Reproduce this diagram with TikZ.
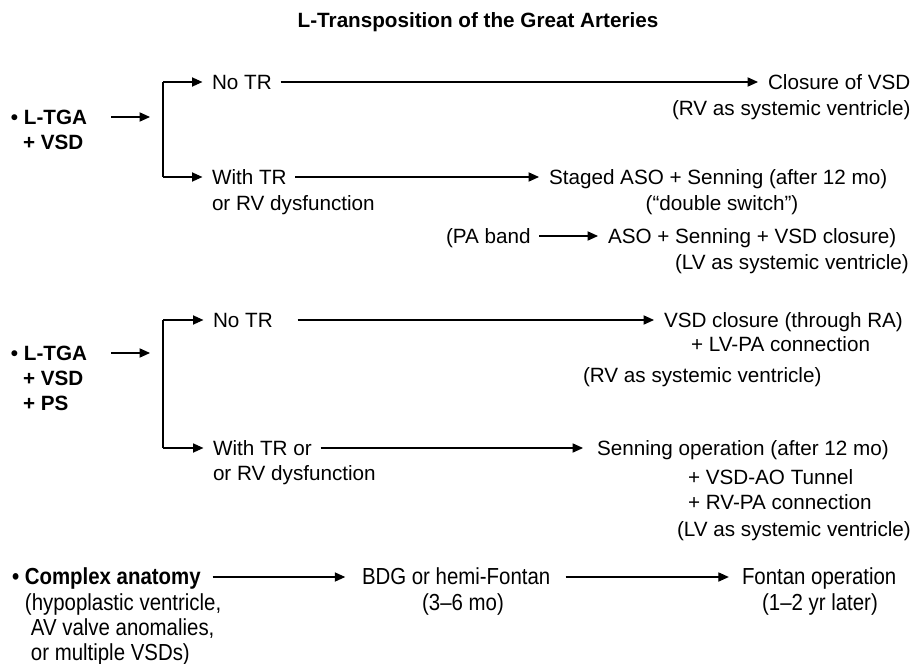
\documentclass[tikz,border=0pt]{standalone}
\usepackage{fontspec}
\setmainfont{Liberation Sans}
\newfontfamily\condfont[FakeStretch=0.88, Ligatures=TeX]{Liberation Sans}
\usetikzlibrary{arrows.meta,positioning}
\newcommand{\tf}{\fontsize{14.7}{17}\selectfont}
\newcommand{\cf}{\condfont\fontsize{16.5}{19}\selectfont}

\begin{document}
\begin{tikzpicture}[x=0.25mm, y=-0.25mm, line width=0.8pt,
  every node/.style={inner sep=0pt, outer sep=0pt, font=\tf},
  txt/.style={anchor=west, text height=10.5pt, text depth=0pt},
  ctr/.style={anchor=center, text height=10.5pt, text depth=0pt},
  link/.style={-{Triangle[length=2.6mm, width=2.3mm]}, shorten <=2.2mm, shorten >=2.5mm},
  fork/.style={-{Triangle[length=2.6mm, width=2.3mm]}}]
\useasboundingbox (0,0) rectangle (916,664);
% ---- title
\node[ctr, font=\tf\bfseries] (title) at (478,20) {L-Transposition of the Great Arteries};
% ================= L-TGA + VSD
\node[txt, font=\tf\bfseries] (tga1) at (11,117) {\textbullet\ L-TGA};
\node[txt, font=\tf\bfseries] (tga1b) at (23,142) {+ VSD};
\coordinate (in1) at (150,117);
\coordinate (top1) at (163,82);
\coordinate (bot1) at (163,177);
\draw[fork] (111,117) -- (in1);
\draw (top1) -- (bot1);
\node[txt] (notr1) at (212,82) {No TR};
\node[txt] (clos) at (768,82) {Closure of VSD};
\node[txt] (rvsys1) at (672,108) {(RV as systemic ventricle)};
\node[txt] (wtr1) at (212,177) {With TR};
\node[txt] (wtr1b) at (212,203) {or RV dysfunction};
\node[txt] (staged) at (549,177) {Staged ASO + Senning (after 12 mo)};
\node[ctr] (dswitch) at (722,203) {(``double switch'')};
\node[txt] (paband) at (446,236) {(PA band};
\node[txt] (aso) at (608,236) {ASO + Senning + VSD closure)};
\node[txt] (lvsys1) at (675,262) {(LV as systemic ventricle)};
\draw[fork, shorten >=2.4mm] (top1) -- (notr1);
\draw[fork, shorten >=2.4mm] (bot1) -- (wtr1);
\draw[link] (notr1) -- (clos);
\draw[link] (wtr1) -- (staged);
\draw[link] (paband) -- (aso);
% ================= L-TGA + VSD + PS
\node[txt, font=\tf\bfseries] (tga2) at (11,353) {\textbullet\ L-TGA};
\node[txt, font=\tf\bfseries] (tga2b) at (23,378) {+ VSD};
\node[txt, font=\tf\bfseries] (tga2c) at (23,403) {+ PS};
\coordinate (in2) at (150,353);
\coordinate (top2) at (163,320);
\coordinate (bot2) at (163,448);
\draw[fork] (111,353) -- (in2);
\draw (top2) -- (bot2);
\node[txt] (notr2) at (213,320) {No TR};
\node[txt] (vsdcl) at (664,320) {VSD closure (through RA)};
\node[txt] (lvpa) at (691,344) {+ LV-PA connection};
\node[txt] (rvsys2) at (583,375) {(RV as systemic ventricle)};
\node[txt] (wtr2) at (213,448) {With TR or};
\node[txt] (wtr2b) at (213,473) {or RV dysfunction};
\node[txt] (senning) at (597,448) {Senning operation (after 12 mo)};
\node[txt] (tunnel) at (688,477) {+ VSD-AO Tunnel};
\node[txt] (rvpa) at (688,502) {+ RV-PA connection};
\node[txt] (lvsys2) at (677,529) {(LV as systemic ventricle)};
\draw[fork, shorten >=2.4mm] (top2) -- (notr2);
\draw[fork, shorten >=2.4mm] (bot2) -- (wtr2);
\draw[link, shorten <=6.2mm] (notr2) -- (vsdcl);
\draw[link, shorten >=3.5mm] (wtr2) -- (senning);
% ================= complex anatomy
\node[txt, font=\cf\bfseries] (cplx) at (12,577) {\textbullet\ Complex anatomy};
\node[txt, font=\cf] (cplxb) at (25,603) {(hypoplastic ventricle,};
\node[txt, font=\cf] (cplxc) at (31,628) {AV valve anomalies,};
\node[txt, font=\cf] (cplxd) at (31,653) {or multiple VSDs)};
\node[txt, font=\cf] (bdg) at (362,577) {BDG or hemi-Fontan};
\node[ctr, font=\cf] (bdgb) at (463,603) {(3–6 mo)};
\node[txt, font=\cf] (fontan) at (742,577) {Fontan operation};
\node[ctr, font=\cf] (fontanb) at (820,603) {(1–2 yr later)};
\draw[link, shorten <=3mm, shorten >=4.2mm] (cplx) -- (bdg);
\draw[link, shorten <=3.8mm, shorten >=3.3mm] (bdg) -- (fontan);
\end{tikzpicture}
\end{document}
